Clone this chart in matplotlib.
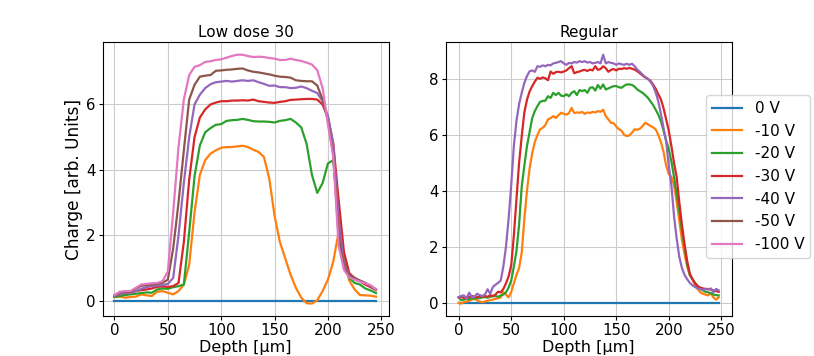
import numpy as np
import matplotlib
matplotlib.use("Agg")
import matplotlib.pyplot as plt

labels = ["0 V", "-10 V", "-20 V", "-30 V", "-40 V", "-50 V", "-100 V"]
colors = ["#1f77b4", "#ff7f0e", "#2ca02c", "#d62728", "#9467bd", "#8c564b", "#e377c2"]

# ---------------- Low dose 30 (left), depth step 5 um ----------------
depth_low = np.arange(0, 250, 5)

low_0 = [0.0] * 50
low_10 = [0.12, 0.13, 0.10, 0.12, 0.13, 0.20, 0.17, 0.15, 0.28, 0.30,
          0.25, 0.20, 0.30, 0.50, 1.10, 2.70, 3.85, 4.30, 4.50, 4.60,
          4.68, 4.70, 4.70, 4.72, 4.74, 4.70, 4.62, 4.55, 4.40, 3.75,
          2.60, 1.80, 1.30, 0.80, 0.40, 0.10, -0.07, -0.08, 0.02, 0.30,
          0.65, 1.20, 2.10, 1.30, 0.62, 0.35, 0.18, 0.17, 0.16, 0.13]
low_20 = [0.12, 0.15, 0.18, 0.20, 0.22, 0.24, 0.26, 0.25, 0.35, 0.38,
          0.37, 0.42, 0.45, 0.50, 2.10, 3.80, 4.75, 5.15, 5.28, 5.38,
          5.40, 5.50, 5.52, 5.53, 5.56, 5.53, 5.49, 5.48, 5.48, 5.47,
          5.45, 5.50, 5.52, 5.56, 5.45, 5.30, 4.80, 3.85, 3.30, 3.60,
          4.20, 4.30, 2.50, 1.20, 0.70, 0.55, 0.50, 0.38, 0.32, 0.24]
low_30 = [0.15, 0.22, 0.24, 0.26, 0.30, 0.33, 0.35, 0.38, 0.43, 0.44,
          0.43, 0.45, 0.55, 1.80, 3.70, 5.00, 5.60, 5.85, 6.00, 6.06,
          6.10, 6.10, 6.12, 6.12, 6.13, 6.12, 6.15, 6.10, 6.08, 6.06,
          6.05, 6.08, 6.10, 6.14, 6.15, 6.16, 6.17, 6.17, 6.15, 6.00,
          5.60, 4.80, 3.10, 1.50, 0.85, 0.70, 0.60, 0.50, 0.42, 0.33]
low_40 = [0.15, 0.22, 0.24, 0.25, 0.30, 0.37, 0.42, 0.45, 0.47, 0.48,
          0.52, 0.70, 2.00, 3.60, 5.00, 6.00, 6.30, 6.50, 6.62, 6.68,
          6.70, 6.72, 6.70, 6.72, 6.74, 6.72, 6.74, 6.68, 6.63, 6.57,
          6.58, 6.53, 6.53, 6.50, 6.51, 6.55, 6.50, 6.42, 6.35, 6.10,
          5.65, 4.80, 2.50, 1.10, 0.80, 0.70, 0.62, 0.55, 0.45, 0.35]
low_50 = [0.18, 0.26, 0.27, 0.28, 0.38, 0.46, 0.48, 0.50, 0.52, 0.55,
          0.65, 1.60, 3.00, 4.60, 6.15, 6.60, 6.85, 6.88, 6.90, 7.03,
          7.04, 7.06, 7.07, 7.09, 7.10, 7.04, 7.00, 6.98, 6.95, 6.92,
          6.88, 6.85, 6.84, 6.82, 6.74, 6.72, 6.71, 6.71, 6.58, 6.15,
          5.50, 4.50, 2.00, 1.00, 0.78, 0.70, 0.62, 0.55, 0.45, 0.35]
low_100 = [0.18, 0.28, 0.30, 0.30, 0.40, 0.50, 0.52, 0.54, 0.55, 0.60,
           0.90, 2.70, 4.70, 6.15, 6.90, 7.15, 7.20, 7.30, 7.32, 7.36,
           7.38, 7.43, 7.48, 7.52, 7.52, 7.48, 7.45, 7.46, 7.45, 7.42,
           7.40, 7.36, 7.36, 7.40, 7.36, 7.33, 7.28, 7.22, 7.05, 6.50,
           5.40, 4.40, 1.70, 0.95, 0.72, 0.65, 0.59, 0.54, 0.48, 0.35]

# ---------------- Regular (right), depth step 2.5 um ----------------
depth_reg = np.arange(0, 250, 2.5)

reg_0 = [0.0] * 100
reg_10 = [0.00, -0.02, 0.03, 0.05, 0.08, 0.12, 0.15, 0.10, 0.05, 0.03,
          0.05, 0.08, 0.10, 0.12, 0.15, 0.17, 0.20, 0.39, 0.30, 0.20,
          0.39, 0.70, 1.00, 1.25, 1.80, 3.00, 4.00, 4.80, 5.35, 5.75,
          6.00, 6.20, 6.25, 6.35, 6.55, 6.60, 6.67, 6.60, 6.70, 6.79,
          6.75, 6.72, 6.78, 6.96, 6.78, 6.80, 6.79, 6.82, 6.75, 6.80,
          6.78, 6.82, 6.80, 6.85, 6.82, 6.90, 6.67, 6.55, 6.43, 6.42,
          6.30, 6.20, 6.15, 6.00, 5.96, 5.98, 6.08, 6.20, 6.18, 6.22,
          6.31, 6.43, 6.38, 6.32, 6.27, 6.20, 6.00, 5.75, 5.40, 4.90,
          4.60, 4.50, 4.20, 3.60, 2.95, 2.25, 1.75, 1.30, 1.00, 0.86,
          0.63, 0.50, 0.38, 0.33, 0.30, 0.27, 0.35, 0.20, 0.12, 0.20]
reg_20 = [0.20, 0.10, 0.12, 0.15, 0.13, 0.17, 0.15, 0.18, 0.17, 0.20,
          0.21, 0.19, 0.22, 0.24, 0.25, 0.22, 0.27, 0.30, 0.38, 0.55,
          0.80, 1.30, 1.85, 2.80, 4.15, 4.90, 5.60, 6.10, 6.60, 6.85,
          7.03, 7.18, 7.21, 7.22, 7.38, 7.32, 7.50, 7.42, 7.50, 7.40,
          7.38, 7.45, 7.38, 7.50, 7.56, 7.42, 7.60, 7.56, 7.60, 7.50,
          7.68, 7.70, 7.58, 7.78, 7.65, 7.80, 7.62, 7.66, 7.70, 7.74,
          7.74, 7.70, 7.68, 7.75, 7.80, 7.80, 7.78, 7.72, 7.62, 7.56,
          7.50, 7.42, 7.33, 7.20, 7.07, 6.90, 6.72, 6.49, 6.15, 5.80,
          5.49, 5.05, 4.50, 3.90, 3.30, 2.60, 2.00, 1.40, 1.00, 0.85,
          0.72, 0.60, 0.50, 0.45, 0.40, 0.38, 0.35, 0.30, 0.28, 0.27]
reg_30 = [0.20, 0.22, 0.18, 0.22, 0.20, 0.25, 0.22, 0.20, 0.25, 0.22,
          0.25, 0.22, 0.28, 0.25, 0.30, 0.40, 0.38, 0.50, 0.70, 0.95,
          1.34, 2.40, 3.70, 5.00, 5.95, 6.80, 7.25, 7.55, 7.74, 7.90,
          8.04, 8.00, 8.05, 8.02, 7.95, 8.26, 8.18, 8.24, 8.25, 8.23,
          8.26, 8.30, 8.38, 8.45, 8.20, 8.24, 8.26, 8.30, 8.32, 8.28,
          8.33, 8.30, 8.45, 8.32, 8.35, 8.45, 8.38, 8.25, 8.32, 8.35,
          8.30, 8.36, 8.35, 8.38, 8.36, 8.39, 8.36, 8.33, 8.27, 8.20,
          8.12, 8.05, 8.00, 7.93, 7.80, 7.65, 7.45, 7.27, 6.95, 6.55,
          6.15, 5.60, 5.00, 4.50, 3.60, 2.80, 2.10, 1.50, 1.05, 0.85,
          0.70, 0.60, 0.55, 0.52, 0.50, 0.50, 0.48, 0.45, 0.42, 0.40]
reg_40 = [0.21, 0.25, 0.27, 0.15, 0.37, 0.21, 0.22, 0.33, 0.28, 0.25,
          0.30, 0.49, 0.33, 0.57, 0.65, 0.72, 0.80, 1.30, 2.00, 3.00,
          4.20, 5.60, 6.50, 7.10, 7.50, 7.85, 8.10, 8.27, 8.30, 8.25,
          8.45, 8.43, 8.48, 8.45, 8.50, 8.48, 8.55, 8.57, 8.60, 8.63,
          8.55, 8.50, 8.57, 8.55, 8.60, 8.58, 8.63, 8.60, 8.63, 8.58,
          8.60, 8.55, 8.57, 8.60, 8.55, 8.86, 8.55, 8.60, 8.57, 8.55,
          8.50, 8.55, 8.52, 8.50, 8.54, 8.50, 8.54, 8.45, 8.33, 8.25,
          8.15, 8.07, 8.00, 7.90, 7.75, 7.52, 7.20, 6.75, 6.25, 5.75,
          4.90, 4.20, 3.10, 2.30, 1.65, 1.25, 1.00, 0.85, 0.72, 0.63,
          0.57, 0.52, 0.50, 0.47, 0.50, 0.48, 0.52, 0.38, 0.50, 0.45]

low_series = [low_0, low_10, low_20, low_30, low_40, low_50, low_100]
reg_series = [reg_0, reg_10, reg_20, reg_30, reg_40]

plt.rcParams['font.family'] = ['DejaVu Sans']
plt.rcParams['font.size'] = 11
plt.rcParams['xtick.major.size'] = 3
plt.rcParams['ytick.major.size'] = 3
plt.rcParams['xtick.major.pad'] = 2.2
plt.rcParams['ytick.major.pad'] = 2.2

fig = plt.figure(figsize=(8.14, 3.56), dpi=100)
ax1 = fig.add_axes([0.1262, 0.1124, 0.3514, 0.7688])
ax2 = fig.add_axes([0.5475, 0.1124, 0.3514, 0.7688])

handles = []
for vals, lab, c in zip(low_series, labels, colors):
    h, = ax1.plot(depth_low[:len(vals)], vals, color=c, lw=1.6, label=lab)
    handles.append(h)
for vals, lab, c in zip(reg_series, labels, colors):
    ax2.plot(depth_reg[:len(vals)], vals, color=c, lw=1.6, label=lab)

for ax, title in [(ax1, "Low dose 30"), (ax2, "Regular")]:
    ax.set_title(title, fontsize=11, pad=3.5)
    ax.set_xlabel("Depth [µm]", fontsize=11.5, labelpad=1.5)
    ax.grid(True, color="#cbcbcb", lw=0.8)
    ax.set_xticks([0, 50, 100, 150, 200, 250])
    ax.tick_params(labelsize=10.8)
    ax.set_axisbelow(True)

ax1.set_xlim(-11, 257)
ax2.set_xlim(-12.4, 259.9)
ax1.set_yticks([0, 2, 4, 6])
ax2.set_yticks([0, 2, 4, 6, 8])
ax1.set_ylabel("Charge [arb. Units]", fontsize=12.2, labelpad=2)

ax2.legend(handles=handles, loc="upper left", bbox_to_anchor=(0.909, 0.8075),
           borderaxespad=0, fontsize=11)

fig.savefig("out.png", dpi=100)
